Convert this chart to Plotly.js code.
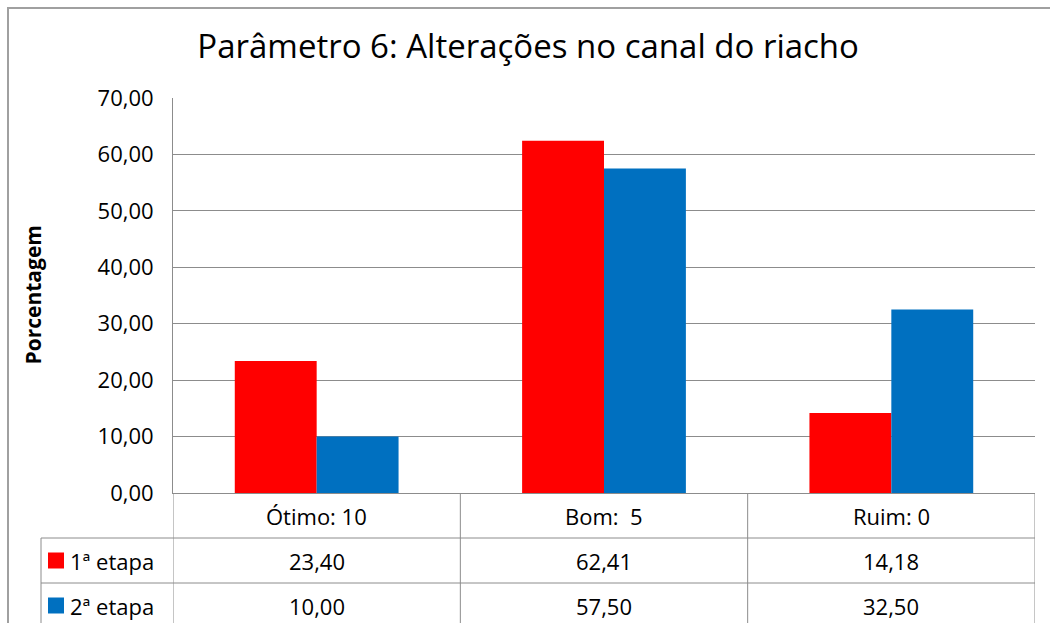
<!DOCTYPE html>
<html>
<head>
<meta charset="utf-8">
<script src="https://cdn.plot.ly/plotly-3.0.1.min.js"></script>
<style>
html,body{margin:0;padding:0;background:#fff;}
#chart{width:1050px;height:623px;}
</style>
</head>
<body>
<div id="chart"></div>
<script>
const categories = ["Ótimo: 10", "Bom:  5", "Ruim: 0"];
const seriesNames = ["1ª etapa", "2ª etapa"];
const etapa1 = [23.40, 62.41, 14.18];
const etapa2 = [10.00, 57.50, 32.50];
const seriesColors = ["#FF0000", "#0070C0"];
const yTicks = [0, 10, 20, 30, 40, 50, 60, 70];

const FONT = "Open Sans, Noto Sans, sans-serif";
const values = [etapa1, etapa2];
const fmt = v => v.toFixed(2).replace('.', ',');

const traces = values.map((vals, i) => ({
  type: 'bar',
  x: categories.map((c, j) => j),
  y: vals,
  name: seriesNames[i],
  marker: {color: seriesColors[i], line: {width: 0}},
  hoverinfo: 'skip'
}));

const plotW = 862, plotH = 395;
const rowH = 45;
const px2py = p => -p / plotH;
const leftTableX = (41 - 173) / plotW;
const rows = [0, px2py(rowH), px2py(2 * rowH), px2py(3 * rowH)];
const gridColor = "#8c8c8c";
const TXT = 22;

const shapes = [];
shapes.push({type:'line', xref:'paper', yref:'paper', x0:leftTableX, x1:1, y0:rows[1], y1:rows[1], line:{color:gridColor, width:1}});
shapes.push({type:'line', xref:'paper', yref:'paper', x0:leftTableX, x1:1, y0:rows[2], y1:rows[2], line:{color:gridColor, width:1}});
shapes.push({type:'line', xref:'paper', yref:'paper', x0:leftTableX, x1:leftTableX, y0:rows[1], y1:rows[3], line:{color:gridColor, width:1}});
for (let b = 0; b <= categories.length; b++) {
  shapes.push({type:'line', xref:'x', yref:'paper', x0:b - 0.5, x1:b - 0.5, y0:0, y1:rows[3], line:{color:gridColor, width:1}});
}
seriesColors.forEach((c, i) => {
  const yc = (rows[i + 1] + rows[i + 2]) / 2;
  shapes.push({type:'rect', xref:'paper', yref:'paper',
    x0:(48 - 173) / plotW, x1:(64 - 173) / plotW,
    y0:yc - 8 / plotH, y1:yc + 8 / plotH,
    fillcolor:c, line:{width:0}});
});

const annotations = [];
categories.forEach((c, j) => {
  annotations.push({xref:'x', yref:'paper', x:j, y:(rows[0] + rows[1]) / 2, text:c, showarrow:false,
    font:{family:FONT, size:TXT, color:'#000'}, xanchor:'center', yanchor:'middle'});
  values.forEach((vals, i) => {
    annotations.push({xref:'x', yref:'paper', x:j, y:(rows[i + 1] + rows[i + 2]) / 2, text:fmt(vals[j]), showarrow:false,
      font:{family:FONT, size:TXT, color:'#000'}, xanchor:'center', yanchor:'middle'});
  });
});
seriesNames.forEach((n, i) => {
  annotations.push({xref:'paper', yref:'paper', x:(68 - 173) / plotW, y:(rows[i + 1] + rows[i + 2]) / 2, text:n, showarrow:false,
    font:{family:FONT, size:TXT, color:'#000'}, xanchor:'left', yanchor:'middle'});
});
annotations.push({xref:'paper', yref:'paper', x:(32 - 173) / plotW, y:0.5, text:'<b>Porcentagem</b>', textangle:-90, showarrow:false,
  font:{family:FONT, size:21, color:'#000'}, xanchor:'center', yanchor:'middle'});

const layout = {
  width:1050, height:623,
  margin:{l:173, r:15, t:98, b:130, pad:0},
  paper_bgcolor:'#fff', plot_bgcolor:'#fff',
  separators:',.',
  showlegend:false,
  title:{text:'Parâmetro 6: Alterações no canal do riacho', x:0.503, xanchor:'center', y:0.925, yanchor:'middle',
    font:{family:FONT, size:33, color:'#000'}},
  bargap:0.43, bargroupgap:0, barmode:'group',
  xaxis:{range:[-0.5, 2.5], showticklabels:false, ticks:'', showgrid:false, zeroline:false,
    showline:true, linecolor:gridColor, linewidth:1, fixedrange:true},
  yaxis:{range:[0, 70], tickvals:yTicks, tickformat:'.2f', ticks:'', ticklabelstandoff:14,
    showgrid:true, gridcolor:gridColor, gridwidth:1, zeroline:false,
    showline:true, linecolor:gridColor, linewidth:1,
    tickfont:{family:FONT, size:22, color:'#000'}, fixedrange:true},
  shapes:[
    {type:'rect', xref:'paper', yref:'paper', x0:(8 - 173) / plotW, x1:(1060 - 173) / plotW, y0:-1, y1:(plotH + 98 - 8) / plotH,
      line:{color:'#a0a0a0', width:2}, fillcolor:'rgba(0,0,0,0)', layer:'below'}
  ].concat(shapes),
  annotations:annotations
};

Plotly.newPlot('chart', traces, layout, {displayModeBar:false, staticPlot:true});
</script>
</body>
</html>
